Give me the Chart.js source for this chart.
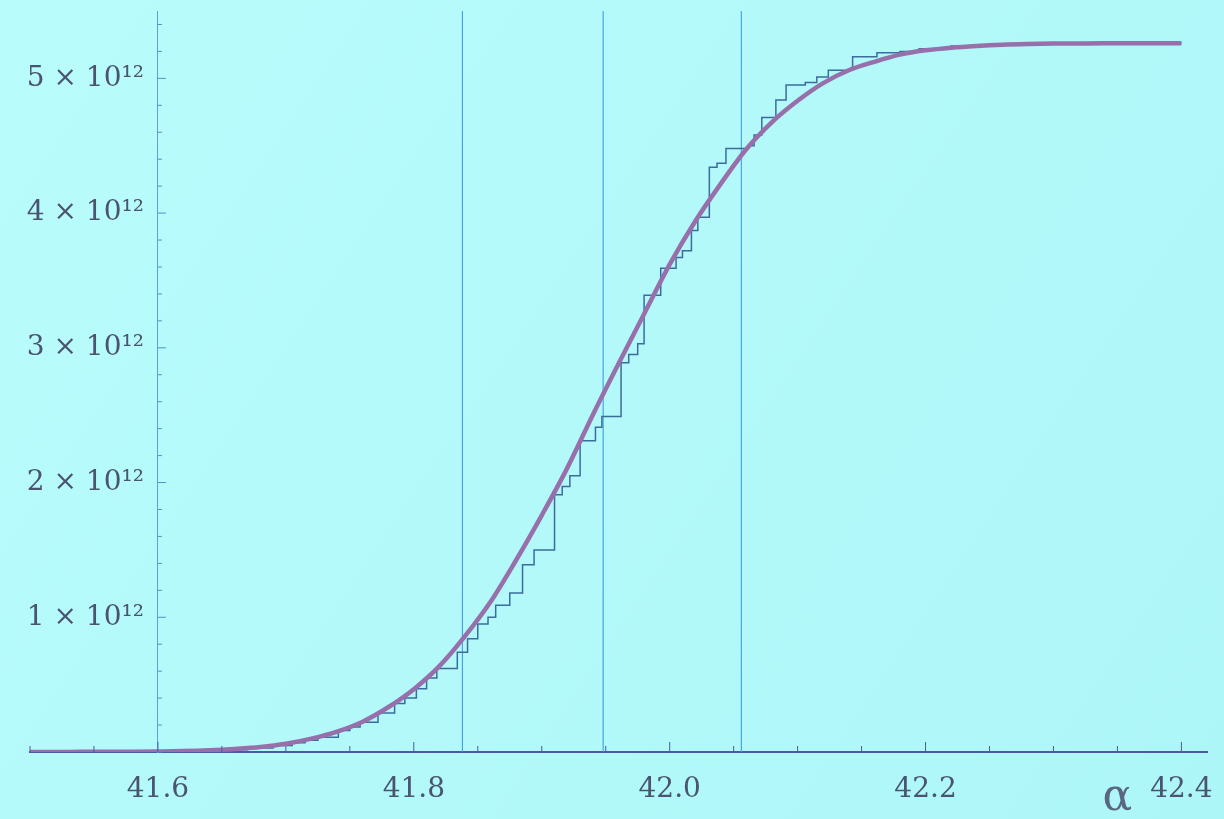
<!DOCTYPE html>
<html><head><meta charset="utf-8">
<script src="https://cdn.jsdelivr.net/npm/chart.js@4/dist/chart.umd.min.js"></script>
<style>html,body{margin:0;padding:0;background:#b1f9f9;overflow:hidden}</style>
</head><body>
<canvas id="c" width="1224" height="819"></canvas>
<script>
// Smooth fitted curve (values in units of 10^12)
const fitX = [41.50,41.52,41.54,41.56,41.58,41.60,41.62,41.64,41.66,41.68,41.70,41.72,41.74,41.76,41.78,41.80,41.82,41.84,41.86,41.88,41.90,41.92,41.94,41.96,41.98,42.00,42.02,42.04,42.06,42.08,42.10,42.12,42.14,42.16,42.18,42.20,42.22,42.24,42.26,42.28,42.30,42.32,42.34,42.36,42.38,42.40];
const fitY = [0.000,0.000,0.001,0.001,0.002,0.004,0.007,0.013,0.023,0.037,0.061,0.099,0.151,0.225,0.332,0.466,0.637,0.860,1.115,1.425,1.757,2.109,2.504,2.882,3.251,3.619,3.940,4.219,4.476,4.676,4.834,4.965,5.060,5.123,5.176,5.208,5.228,5.241,5.250,5.255,5.258,5.259,5.260,5.260,5.260,5.260];
// Empirical staircase: jump position and level after the jump
const stepX = [41.50,41.60,41.63,41.65,41.67,41.69,41.705,41.715,41.725,41.741,41.75,41.758,41.772,41.785,41.793,41.802,41.81,41.818,41.834,41.842,41.85,41.858,41.864,41.875,41.885,41.894,41.910,41.916,41.922,41.930,41.942,41.947,41.962,41.968,41.975,41.980,41.993,42.005,42.010,42.017,42.022,42.031,42.037,42.044,42.061,42.066,42.072,42.083,42.091,42.106,42.115,42.124,42.143,42.162,42.180,42.195,42.22,42.25,42.28,42.40];
const stepY = [0,0.004,0.009,0.017,0.029,0.048,0.069,0.087,0.109,0.16,0.185,0.22,0.29,0.36,0.40,0.47,0.55,0.62,0.74,0.84,0.95,1.00,1.09,1.18,1.39,1.50,1.91,1.97,2.05,2.31,2.41,2.49,2.89,2.95,3.03,3.39,3.59,3.67,3.72,3.87,3.97,4.34,4.37,4.48,4.50,4.58,4.71,4.84,4.95,4.97,5.01,5.06,5.16,5.19,5.20,5.22,5.24,5.25,5.26,5.26];
// Vertical marker lines
const vLines = [41.838, 41.948, 42.056];
// Ticks
const xTicks = [41.50,41.55,41.60,41.65,41.70,41.75,41.80,41.85,41.90,41.95,42.00,42.05,42.10,42.15,42.20,42.25,42.30,42.35,42.40];
const xMajor = [41.6,41.8,42.0,42.2,42.4];
const yTicks = [0,0.2,0.4,0.6,0.8,1,1.2,1.4,1.6,1.8,2,2.2,2.4,2.6,2.8,3,3.2,3.4,3.6,3.8,4,4.2,4.4,4.6,4.8,5,5.2,5.4];
const yMajor = [1,2,3,4,5];
const xAxisLabel = 'α';

const isIn = (arr, v) => arr.some(a => Math.abs(a - v) < 1e-6);
const TEXT = '#4a5470';
const FONT = 'DejaVu Serif';
const tickFont = (majors, lh) => c => {
  const major = c && c.tick ? isIn(majors, c.tick.value) : true;
  return {family: FONT, size: major ? 28 : 1, lineHeight: lh};
};

const bgPlugin = {
  id: 'bg',
  beforeDraw(chart) {
    const {ctx, width, height} = chart;
    ctx.save();
    const g = ctx.createLinearGradient(0, 0, width, height);
    g.addColorStop(0, '#b9fcfc');
    g.addColorStop(1, '#adf6f8');
    ctx.fillStyle = g;
    ctx.fillRect(0, 0, width, height);
    ctx.restore();
  }
};
const tickPlugin = {
  id: 'innerTicks',
  afterDraw(chart) {
    const {ctx} = chart;
    const xs = chart.scales.x, ys = chart.scales.y;
    const y0 = ys.getPixelForValue(0);
    const x0 = xs.getPixelForValue(41.6);
    ctx.save();
    ctx.lineWidth = 1;
    ctx.strokeStyle = '#4e5aa0';
    xs.ticks.forEach(t => {
      const px = xs.getPixelForValue(t.value);
      const len = isIn(xMajor, t.value) ? 10 : 6;
      ctx.beginPath(); ctx.moveTo(px, y0); ctx.lineTo(px, y0 - len); ctx.stroke();
    });
    ctx.strokeStyle = '#4f92c8';
    ys.ticks.forEach(t => {
      const py = ys.getPixelForValue(t.value);
      const len = isIn(yMajor, t.value) ? 8 : 4;
      ctx.beginPath(); ctx.moveTo(x0, py); ctx.lineTo(x0 + len, py); ctx.stroke();
    });
    ctx.fillStyle = '#5a6680';
    ctx.font = '44px "DejaVu Serif"';
    ctx.textAlign = 'center';
    ctx.textBaseline = 'alphabetic';
    ctx.fillText(xAxisLabel, xs.getPixelForValue(42.35), y0 + 58);
    ctx.restore();
  }
};

new Chart(document.getElementById('c'), {
  type: 'line',
  data: {
    datasets: [
      {
        label: 'fit',
        data: fitX.map((x, i) => ({x, y: fitY[i]})),
        borderColor: '#976fab',
        borderWidth: 4.5,
        pointRadius: 0,
        cubicInterpolationMode: 'monotone',
        fill: false
      },
      {
        label: 'steps',
        data: stepX.map((x, i) => ({x, y: stepY[i]})),
        borderColor: '#3c6c9c',
        borderWidth: 1.5,
        pointRadius: 0,
        stepped: true,
        fill: false
      },
      ...vLines.map(v => ({
        label: 'v' + v,
        data: [{x: v, y: 0}, {x: v, y: 5.5}],
        borderColor: '#3f9edf',
        borderWidth: 1.1,
        pointRadius: 0,
        fill: false
      }))
    ]
  },
  options: {
    responsive: false,
    animation: false,
    devicePixelRatio: 1,
    layout: {padding: {left: 30, right: 17, top: 11, bottom: 67}},
    plugins: {legend: {display: false}, tooltip: {enabled: false}},
    scales: {
      x: {
        type: 'linear', min: 41.5, max: 42.42,
        position: {y: 0},
        afterBuildTicks: s => { s.ticks = xTicks.map(v => ({value: v})); },
        grid: {display: false, drawTicks: false},
        border: {display: true, color: '#4e59a5', width: 2},
        ticks: {
          autoSkip: false, maxRotation: 0, padding: 0,
          color: TEXT,
          font: tickFont(xMajor, 2.7),
          callback: v => isIn(xMajor, v) ? v.toFixed(1) : ''
        }
      },
      y: {
        type: 'linear', min: 0, max: 5.5,
        position: {x: 41.6},
        afterBuildTicks: s => { s.ticks = yTicks.map(v => ({value: v})); },
        grid: {display: false, drawTicks: false},
        border: {display: true, color: '#5ba0d6', width: 1},
        ticks: {
          autoSkip: false, padding: 0,
          color: TEXT,
          font: tickFont(yMajor, 1.2),
          callback: v => isIn(yMajor, v) ? (Math.round(v) + ' × 10¹²\u2002') : ''
        }
      }
    }
  },
  plugins: [bgPlugin, tickPlugin]
});
</script>
</body></html>
